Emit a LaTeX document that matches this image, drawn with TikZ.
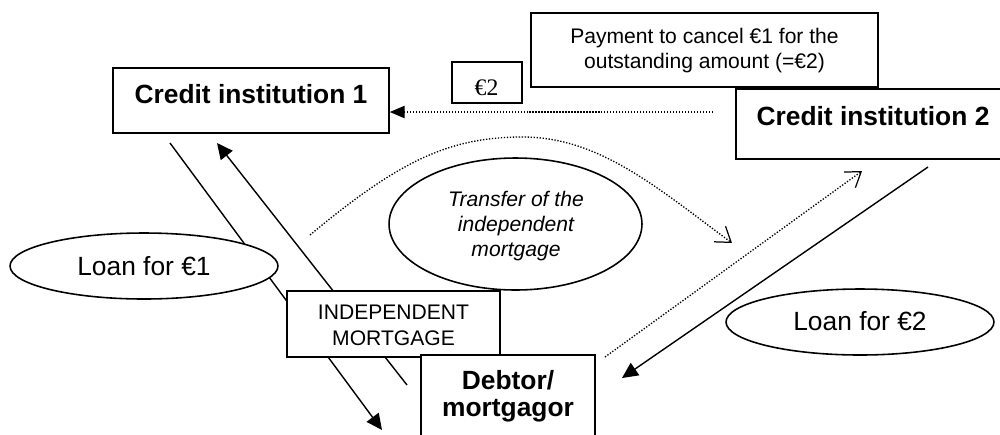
\documentclass[tikz,border=0pt]{standalone}
\usepackage{fontspec}
\setmainfont{Liberation Sans}
\newfontfamily\eurserif{Liberation Serif}
\usetikzlibrary{arrows.meta,shapes.geometric}
\begin{document}
\begin{tikzpicture}[x=0.02cm,y=-0.02cm,
  box/.style={draw, line width=0.9pt, fill=white, rectangle, inner sep=0pt},
  oval/.style={draw, line width=0.9pt, fill=white, ellipse, inner sep=0pt},
  link/.style={line width=0.8pt},
  dotlink/.style={line width=0.75pt, dash pattern=on 0.75pt off 0.95pt},
  fillhead/.style={-{Triangle[length=9pt,width=8.5pt]}},
  smallhead/.style={-{Triangle[length=8.5pt,width=7pt]}},
  openhead/.style={-{Straight Barb[length=8pt,width=11pt,line width=0.7pt]}},
  titletext/.style={inner sep=0pt, font=\fontsize{15}{15.3}\selectfont\bfseries},
  bigtext/.style={inner sep=0pt, font=\fontsize{15}{17}\selectfont},
  smalltext/.style={inner sep=0pt, align=center, font=\fontsize{12}{14.3}\selectfont},
]
\clip (0,0) rectangle (1000,434);

% connector end points
\coordinate (d1s) at (713,112);
\coordinate (l1s) at (170,143);
\coordinate (l1e) at (382,430);
\coordinate (l2s) at (407,385);
\coordinate (l2e) at (217,143);
\coordinate (trs) at (310,235);
\coordinate (trt) at (523,137);
\coordinate (tre) at (732,243);
\coordinate (d2s) at (605,357);
\coordinate (d2e) at (862,171);
\coordinate (l3s) at (928,167);
\coordinate (l3e) at (622,378);

% connectors (drawn under the shapes)
\draw[link, fillhead] (l1s) -- (l1e);
\draw[link, fillhead] (l2s) -- (l2e);
\draw[link, fillhead] (l3s) -- (l3e);
\draw[dotlink, openhead] (trs) .. controls (400,160) and (450,137) .. (trt)
      .. controls (600,137) and (660,190) .. (tre);
\draw[dotlink, openhead] (d2s) -- (d2e);

% shapes
\node[box, minimum width=5.52cm, minimum height=1.3cm] (ci1) at (251,100.5) {};
\node[box, minimum width=1.4cm, minimum height=0.82cm] (eur) at (487,82.5) {};
\node[box, minimum width=6.94cm, minimum height=1.48cm] (pay) at (704.5,50) {};
\node[box, minimum width=5.48cm, minimum height=1.4cm] (ci2) at (873,124) {};
\node[oval, minimum width=5.36cm, minimum height=1.32cm] (loan1) at (144,266) {};
\node[oval, minimum width=5.36cm, minimum height=1.32cm] (loan2) at (860,322) {};
\node[oval, minimum width=5.06cm, minimum height=2.64cm] (trans) at (515.5,224) {};
\node[box, minimum width=4.26cm, minimum height=1.32cm] (indep) at (393.5,324) {};
\node[box, minimum width=3.48cm, minimum height=2.0cm] (debt) at (508,405) {};

\draw[dotlink, smallhead] (d1s) -- (d1s -| ci1.east);

% texts
\node[titletext, anchor=base] (ci1t) at (251,103) {Credit institution 1};
\node[titletext, anchor=base] (ci2t) at (873,125) {Credit institution 2};
\node[inner sep=0pt, anchor=base, font=\eurserif\fontsize{13.5}{15}\selectfont] (eurt) at (486.5,95.5) {€2};
\node[smalltext, anchor=north] (payt) at (704.5,27.5) {Payment to cancel €1 for the\\outstanding amount (=€2)};
\node[bigtext, anchor=base] (loan1t) at (144,275) {Loan for €1};
\node[bigtext, anchor=base] (loan2t) at (860,330) {Loan for €2};
\node[smalltext, anchor=north, font=\fontsize{12}{14.3}\selectfont\itshape] (transt) at (516,190.5) {Transfer of the\\independent\\mortgage};
\node[smalltext, anchor=north, font=\fontsize{12}{14.7}\selectfont] (indept) at (393.5,305) {INDEPENDENT\\MORTGAGE};
\node[titletext, align=center, anchor=north] (debtt) at (508,370) {Debtor/\\mortgagor};
\end{tikzpicture}
\end{document}
